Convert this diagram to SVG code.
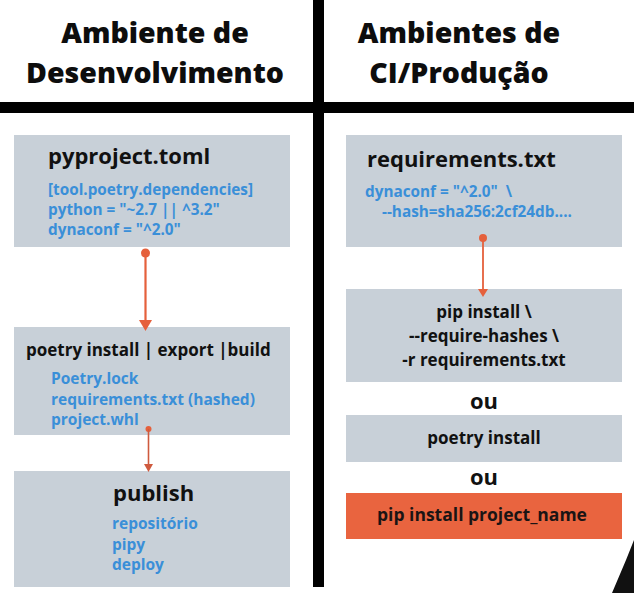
<svg xmlns="http://www.w3.org/2000/svg" width="634" height="593" viewBox="0 0 634 593">
  <style>
    text { font-family: "Open Sans", "Liberation Sans", sans-serif; font-weight: 700; }
    .title { font-size: 28.5px; font-weight: 800; fill: #0d0d0d; text-anchor: middle; }
    .box { fill: #c8d0d8; }
    .hot { fill: #e9643f; }
    .head { font-size: 22px; fill: #111; }
    .cmd { font-size: 17px; fill: #111; }
    .code { font-size: 15.3px; fill: #3a8fd8; }
    .item { font-size: 15.5px; fill: #3a8fd8; }
    .ou { font-size: 22px; fill: #111; text-anchor: middle; }
    .mid { text-anchor: middle; }
    .conn line { stroke: #e5603c; stroke-width: 2.2; }
    .conn circle, .conn polygon { fill: #e5603c; }
  </style>

  <rect width="634" height="593" fill="#ffffff"/>

  <!-- column headings -->
  <g id="heading-dev">
    <text class="title" x="155" y="43">Ambiente de</text>
    <text class="title" x="155" y="83">Desenvolvimento</text>
  </g>
  <g id="heading-prod">
    <text class="title" x="459" y="43">Ambientes de</text>
    <text class="title" x="459" y="83">CI/Produção</text>
  </g>

  <!-- dividing cross -->
  <g id="dividers" fill="#000">
    <rect x="0" y="102" width="634" height="11"/>
    <rect x="313" y="0" width="11" height="587"/>
  </g>

  <!-- development column -->
  <g id="pyproject">
    <rect class="box" x="14" y="135" width="276" height="112"/>
    <text class="head" x="48" y="164">pyproject.toml</text>
    <text class="code" x="48" y="195">[tool.poetry.dependencies]</text>
    <text class="code" x="48" y="215">python = "~2.7 || ^3.2"</text>
    <text class="code" x="48" y="235">dynaconf = "^2.0"</text>
  </g>

  <g id="poetry-build">
    <rect class="box" x="14" y="327" width="276" height="108"/>
    <text class="cmd" x="26" y="356">poetry install | export |build</text>
    <text class="item" x="51" y="384">Poetry.lock</text>
    <text class="item" x="51" y="405">requirements.txt (hashed)</text>
    <text class="item" x="51" y="425">project.whl</text>
  </g>

  <g id="publish">
    <rect class="box" x="14" y="471" width="276" height="116"/>
    <text class="head" x="113" y="501">publish</text>
    <text class="item" x="112" y="529">repositório</text>
    <text class="item" x="112" y="550">pipy</text>
    <text class="item" x="112" y="570">deploy</text>
  </g>

  <!-- CI / production column -->
  <g id="requirements">
    <rect class="box" x="346" y="135" width="276" height="112"/>
    <text class="head" x="367" y="167">requirements.txt</text>
    <text class="code" x="365" y="197" xml:space="preserve">dynaconf = "^2.0"  \</text>
    <text class="code" x="382" y="217">--hash=sha256:2cf24db....</text>
  </g>

  <g id="pip-install-hashes">
    <rect class="box" x="346" y="289" width="276" height="93"/>
    <text class="cmd mid" x="484" y="318">pip install \</text>
    <text class="cmd mid" x="484" y="342">--require-hashes \</text>
    <text class="cmd mid" x="484" y="366">-r requirements.txt</text>
  </g>

  <g id="or-1">
    <text class="ou" x="484" y="409">ou</text>
  </g>

  <g id="poetry-install">
    <rect class="box" x="346" y="415" width="276" height="47"/>
    <text class="cmd mid" x="484" y="444">poetry install</text>
  </g>

  <g id="or-2">
    <text class="ou" x="484" y="485">ou</text>
  </g>

  <g id="pip-install-project">
    <rect class="hot" x="346" y="493" width="276" height="46"/>
    <text class="cmd mid" x="482" y="521" style="font-size:17.5px;fill:#1a1414">pip install project_name</text>
  </g>

  <!-- connectors -->
  <g id="connectors" class="conn">
    <circle cx="145.5" cy="253" r="4.5"/>
    <line x1="145.5" y1="253" x2="145.5" y2="321"/>
    <polygon points="139,320 152,320 145.5,331"/>

    <circle cx="148.5" cy="429" r="3"/>
    <line x1="148.5" y1="429" x2="148.5" y2="465" style="stroke:#cf5a3e;stroke-width:1.6"/>
    <polygon points="144,464 153,464 148.5,472" style="fill:#cf5a3e"/>

    <circle cx="483" cy="238" r="4"/>
    <line x1="483" y1="238" x2="483" y2="290" style="stroke-width:1.8"/>
    <polygon points="478,289 488,289 483,297"/>
  </g>

  <!-- dark shape in lower right corner -->
  <polygon points="634,540 634,593 612,593 626,560" fill="#111"/>
</svg>
